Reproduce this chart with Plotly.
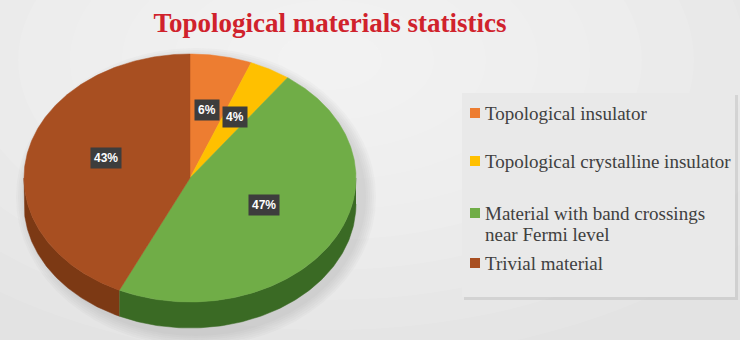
import numpy as np
import plotly.graph_objects as go

# ---- data ----
categories = ["Topological insulator", "Topological crystalline insulator",
              "Material with band crossings near Fermi level", "Trivial material"]
legend_labels = ["Topological insulator", "Topological crystalline insulator",
                 "Material with band crossings<br>near Fermi level", "Trivial material"]
values = [6, 4, 47, 43]
top_colors = ["#ED7D31", "#FFC000", "#70AD47", "#A84F21"]
side_colors = ["#B35C20", "#C49000", "#3A6A24", "#7C3914"]
title_text = "Topological materials statistics"

# ---- geometry (style) ----
W, H = 740, 340
cx, cy, rx, ry, depth = 190, 178, 166, 124, 26

fig = go.Figure()

# background radial glow
for i in range(10):
    s = 1 - i / 10
    fig.add_shape(type="circle", xref="x", yref="y",
                  x0=330 - 520 * s, x1=330 + 520 * s, y0=60 - 300 * s, y1=60 + 300 * s,
                  fillcolor="rgba(255,255,255,0.10)", line_width=0, layer="below")

# soft pie shadow
for i in range(6):
    g = 14 - i * 2
    fig.add_shape(type="circle", xref="x", yref="y",
                  x0=cx - rx - g + 6, x1=cx + rx + g + 6,
                  y0=cy - ry - g + 8, y1=cy + ry + depth + g + 4,
                  fillcolor="rgba(120,120,120,0.035)", line_width=0, layer="below")

# legend box
fig.add_shape(type="rect", xref="x", yref="y", x0=464, x1=738, y0=95, y1=300,
              fillcolor="rgba(150,150,150,0.25)", line_width=0, layer="below")
fig.add_shape(type="rect", xref="x", yref="y", x0=462, x1=735, y0=93, y1=297,
              fillcolor="#e9e9e9", line_width=0, layer="below")

total = float(sum(values))
cum = np.concatenate([[0], np.cumsum(values)]) / total * 2 * np.pi


def ex(t):
    return cx + rx * np.sin(t)


def ey(t):
    return cy - ry * np.cos(t)


# sides (front half visible)
for i, v in enumerate(values):
    a0, a1 = cum[i], cum[i + 1]
    lo, hi = max(a0, np.pi / 2), min(a1, 3 * np.pi / 2)
    if hi <= lo:
        continue
    t = np.linspace(lo, hi, 120)
    xs = np.concatenate([ex(t), ex(t[::-1])])
    ys = np.concatenate([ey(t), ey(t[::-1]) + depth])
    fig.add_trace(go.Scatter(x=xs, y=ys, fill="toself", mode="lines",
                             fillcolor=side_colors[i],
                             line=dict(color=side_colors[i], width=0.5),
                             hoverinfo="skip", showlegend=False))

# top faces
for i, v in enumerate(values):
    a0, a1 = cum[i], cum[i + 1]
    t = np.linspace(a0, a1, max(int(v * 6), 8))
    xs = np.concatenate([[cx], ex(t), [cx]])
    ys = np.concatenate([[cy], ey(t), [cy]])
    fig.add_trace(go.Scatter(x=xs, y=ys, fill="toself", mode="lines",
                             fillcolor=top_colors[i],
                             line=dict(color=top_colors[i], width=0.5),
                             name=categories[i], hoverinfo="name",
                             showlegend=False))

# data labels
for i, v in enumerate(values):
    m = (cum[i] + cum[i + 1]) / 2
    f = 0.56 if v < 10 else 0.52
    off = 0 if v < 10 else -6
    fig.add_annotation(x=cx + rx * f * np.sin(m), y=cy + off - ry * f * np.cos(m),
                       xref="x", yref="y", text="<b>%d%%</b>" % v, showarrow=False,
                       font=dict(family="Liberation Sans", size=12, color="white"),
                       bgcolor="#3d3d3d", borderpad=3)

# manual legend
leg_y = [113, 161, 213, 263]
for i, lab in enumerate(legend_labels):
    fig.add_shape(type="rect", xref="x", yref="y", x0=470, x1=480,
                  y0=leg_y[i] - 5, y1=leg_y[i] + 5,
                  fillcolor=top_colors[i], line_width=0)
    for j, line in enumerate(lab.split("<br>")):
        fig.add_annotation(x=483, y=leg_y[i] + 21 * j, xref="x", yref="y", text=line,
                           showarrow=False, xanchor="left", yanchor="middle", align="left",
                           font=dict(family="Liberation Serif", size=19, color="#404040"))

fig.update_layout(
    width=W, height=H, margin=dict(l=0, r=0, t=0, b=0),
    paper_bgcolor="#e3e3e3", plot_bgcolor="rgba(0,0,0,0)",
    title=dict(text="<b>%s</b>" % title_text, x=0.446, xanchor="center",
               y=1 - 23 / 340, yanchor="middle", yref="container",
               font=dict(family="Liberation Serif", size=27, color="#D0222C")),
    xaxis=dict(range=[0, W], visible=False, fixedrange=True),
    yaxis=dict(range=[H, 0], visible=False, fixedrange=True),
    showlegend=False,
)

fig.write_html("out.html")
